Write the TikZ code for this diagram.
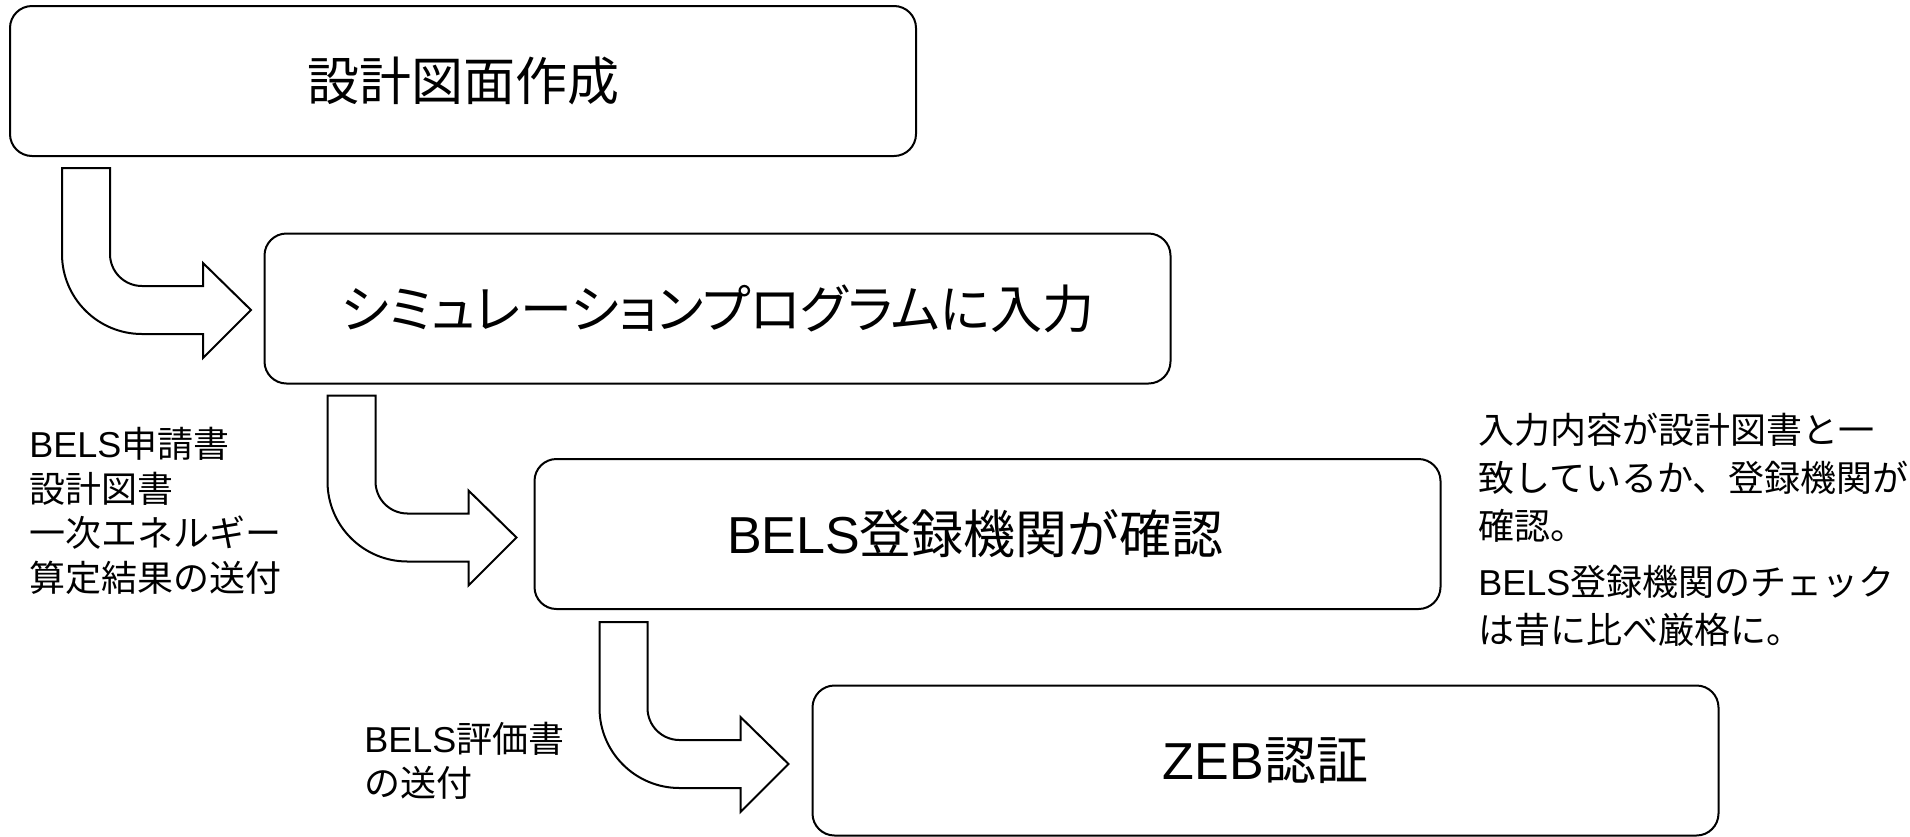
\documentclass[tikz,border=0pt]{standalone}
\usepackage{fontspec}
\setmainfont{Noto Sans CJK JP}
\newfontfamily\jp{Noto Sans CJK JP}
\newfontfamily\jpp{Noto Sans CJK JP}[RawFeature=+palt]
\newfontfamily\lat{Liberation Sans}
\usetikzlibrary{calc}
\begin{document}
\begin{tikzpicture}[x=0.5pt,y=-0.5pt,
  stepbox/.style={draw=black,line width=1pt,rounded corners=11pt,minimum width=453pt,minimum height=75pt,inner sep=0pt,fill=white,font=\jp\fontsize{26}{30}\selectfont},
  notel/.style={align=left,inner sep=0pt,anchor=west,font=\jp\fontsize{18}{22.25}\selectfont},
  noter/.style={align=left,inner sep=0pt,anchor=west,font=\jp\fontsize{18}{24}\selectfont},
  bentarrow/.pic={\draw[line width=1pt,fill=white,line join=miter]
    (0,0) -- (48,0) -- (48,86) .. controls (48,103.7) and (62.3,118) .. (80,118)
    -- (141,118) -- (141,95) -- (189,142) -- (141,190) -- (141,166) -- (80,166)
    .. controls (35.8,166) and (0,130.2) .. (0,86) -- cycle;}
]
\useasboundingbox (0,0) rectangle (1910,836);
\fill[white] (0,0) rectangle (1910,836);

\node[stepbox] (b1) at (463,81) {設計図面作成};
\node[stepbox] (b2) at (717.5,308.5) {\jpp シミュレーションプログラムに入力};
\node[stepbox] (b3) at (987.5,534) {{\lat BELS}登録機関が確認\hspace*{12pt}};
\node[stepbox] (b4) at (1265.5,760.5) {{\lat ZEB}認証};

\pic at ($(b1.south west)+(53,11)$) {bentarrow};
\pic at ($(b2.south west)+(64,11)$) {bentarrow};
\pic at ($(b3.south west)+(66,12)$) {bentarrow};

\node[notel] (n1) at (29,511) {{\lat BELS}申請書\\設計図書\\一次エネルギー\\算定結果の送付};
\node[notel] (n2) at (364,761) {{\lat BELS}評価書\\の送付};
\node[noter] (n3) at (1478,530) {入力内容が設計図書と一\\致しているか、登録機関が\\確認。\\[4pt]{\lat BELS}登録機関のチェック\\は昔に比べ厳格に。};
\end{tikzpicture}
\end{document}
